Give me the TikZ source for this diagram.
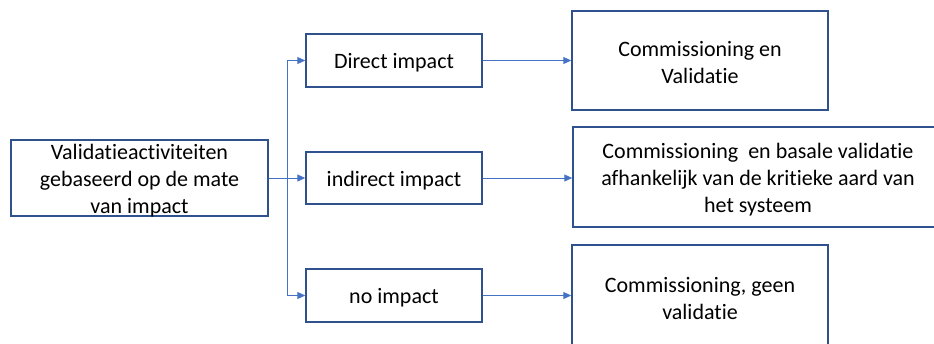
\documentclass[tikz,border=0pt]{standalone}
\usepackage{fontspec}
\setmainfont[Ligatures=NoCommon]{Carlito}
\usetikzlibrary{arrows.meta}
\definecolor{boxblue}{HTML}{2F528F}
\definecolor{arrblue}{HTML}{4472C4}
\begin{document}
\begin{tikzpicture}[x=1pt,y=-1pt,
  box/.style={draw=boxblue,line width=1.5pt,fill=white,rectangle,inner sep=0pt},
  txt/.style={align=center,inner sep=0pt,yshift=-2.5pt,font=\fontsize{22}{27}\selectfont,text=black},
  conn/.style={draw=arrblue,line width=1pt,-{Triangle[length=8pt,width=7pt]}}]
\useasboundingbox (0,0) rectangle (934,343);
\node[box,minimum width=257pt,minimum height=76pt,label={[txt]center:{Validatieactiviteiten\\gebaseerd op de mate\\van impact}}] (src) at (139.5,178) {};
\node[box,minimum width=176pt,minimum height=53pt,label={[txt]center:{Direct impact}}] (dir) at (394,60.5) {};
\node[box,minimum width=176pt,minimum height=52pt,label={[txt]center:{indirect impact}}] (ind) at (394,178) {};
\node[box,minimum width=176pt,minimum height=53pt,label={[txt]center:{no impact}}] (no) at (394,295.5) {};
\node[box,minimum width=256pt,minimum height=99pt,label={[txt]center:{Commissioning en\\Validatie}}] (r1) at (700,60.5) {};
\node[box,minimum width=370pt,minimum height=100pt,label={[txt]center:{Commissioning\ \ en basale validatie\\afhankelijk van de kritieke aard van\\het systeem}}] (r2) at (758,177) {};
\node[box,minimum width=256pt,minimum height=102pt,label={[txt]center:{Commissioning, geen\\validatie}}] (r3) at (700,296) {};
\coordinate (br) at (287,178);
\draw[conn] (src.east) -- (ind.west);
\draw[conn] (br) |- (dir.west);
\draw[conn] (br) |- (no.west);
\draw[conn] (dir.east) -- (r1.west);
\draw[conn] (ind.east) -- (ind.east -| r2.west);
\draw[conn] (no.east) -- (no.east -| r3.west);
\end{tikzpicture}
\end{document}
